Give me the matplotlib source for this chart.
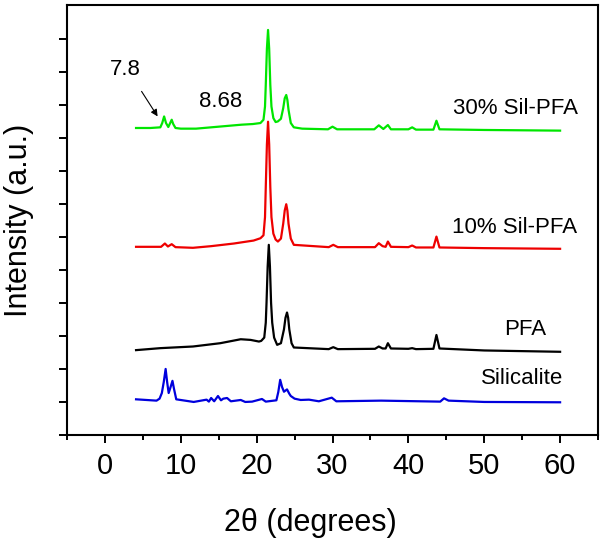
import numpy as np
import matplotlib
matplotlib.use("Agg")
import matplotlib.pyplot as plt
from matplotlib.ticker import MultipleLocator, NullFormatter

plt.rcParams['font.family'] = ['Liberation Sans', 'DejaVu Sans']

# traces (2theta, offset intensity)
sil30_x = [4.1, 6.0, 7.3, 7.55, 7.8, 8.05, 8.35, 8.6, 8.8, 9.0, 9.3, 10, 12, 14, 16, 18, 19.5, 20.5,
           20.9, 21.1, 21.2, 21.35, 21.5, 21.65, 21.8, 21.95, 22.2, 22.5, 22.8, 23.2, 23.5, 23.7,
           23.9, 24.05, 24.2, 24.5, 24.9, 26, 29.4, 30.0, 30.6, 35.5, 36.1, 36.7, 37.3, 37.7,
           40, 40.5, 41.0, 43.3, 43.7, 44.1, 50, 60]
sil30_y = [9.30, 9.30, 9.32, 9.45, 9.65, 9.45, 9.33, 9.45, 9.55, 9.42, 9.30, 9.28, 9.28, 9.32, 9.36,
           9.40, 9.42, 9.45, 9.55, 9.95, 10.6, 11.7, 12.27, 11.7, 10.6, 9.95, 9.60, 9.48, 9.50, 9.58,
           9.90, 10.2, 10.3, 10.15, 9.85, 9.45, 9.32, 9.28, 9.26, 9.34, 9.26, 9.26, 9.38, 9.27, 9.39,
           9.26, 9.26, 9.32, 9.25, 9.25, 9.52, 9.26, 9.24, 9.22]

sil10_x = [4.1, 7.4, 7.9, 8.3, 8.8, 9.3, 11.6, 14, 17, 19.6, 20.5, 20.9, 21.1, 21.2, 21.35, 21.5,
           21.65, 21.8, 21.95, 22.2, 22.5, 22.8, 23.2, 23.5, 23.7, 23.9, 24.05, 24.2, 24.5, 24.9,
           29.5, 30.1, 30.7, 35.6, 36.1, 36.6, 37.0, 37.3, 37.7, 40.0, 40.5, 41.0, 43.3, 43.7,
           44.1, 50, 60]
sil10_y = [5.70, 5.70, 5.80, 5.71, 5.78, 5.69, 5.67, 5.72, 5.80, 5.89, 5.96, 6.05, 6.60, 7.50, 8.80,
           9.49, 8.80, 7.50, 6.60, 6.10, 5.92, 5.86, 5.95, 6.40, 6.80, 6.99, 6.80, 6.40, 5.95, 5.76,
           5.69, 5.76, 5.69, 5.69, 5.81, 5.72, 5.70, 5.86, 5.70, 5.69, 5.74, 5.68, 5.68, 6.01, 5.68,
           5.66, 5.64]

pfa_x = [4.1, 7.3, 11.6, 15.2, 17.9, 19.2, 20.3, 20.6, 21.0, 21.2, 21.3, 21.45, 21.6, 21.75, 21.9,
         22.05, 22.3, 22.7, 23.2, 23.6, 23.8, 24.0, 24.15, 24.3, 24.6, 24.9, 29.5, 30.1, 30.7, 35.6,
         36.1, 36.6, 37.0, 37.3, 37.7, 40.0, 40.5, 41.0, 43.3, 43.7, 44.1, 50, 60]
pfa_y = [2.57, 2.63, 2.68, 2.78, 2.90, 2.88, 2.83, 2.85, 2.95, 3.40, 4.00, 5.10, 5.76, 5.10, 4.00,
         3.40, 2.95, 2.73, 2.78, 3.20, 3.55, 3.71, 3.55, 3.20, 2.78, 2.65, 2.60, 2.66, 2.60, 2.61,
         2.68, 2.62, 2.62, 2.78, 2.62, 2.61, 2.63, 2.60, 2.61, 3.03, 2.62, 2.56, 2.52]

silic_x = [4.1, 6.8, 7.2, 7.5, 7.75, 8.0, 8.2, 8.4, 8.65, 8.9, 9.1, 9.4, 11.7, 13.4, 13.7, 14.0,
           14.4, 14.9, 15.3, 15.6, 16.1, 16.6, 17.9, 18.5, 19.4, 20.7, 21.2, 22.6, 22.85, 23.1,
           23.35, 23.6, 24.0, 24.3, 24.5, 25.0, 25.8, 26.9, 28.2, 29.9, 30.5, 36.4, 44.2, 44.7,
           45.3, 50, 60]
silic_y = [1.08, 1.04, 1.10, 1.27, 1.60, 2.00, 1.60, 1.27, 1.45, 1.64, 1.40, 1.08, 1.00, 1.07, 1.01,
           1.12, 1.02, 1.18, 1.05, 1.10, 1.12, 1.02, 1.06, 1.00, 1.01, 1.09, 1.01, 1.05, 1.30, 1.67,
           1.45, 1.31, 1.38, 1.25, 1.18, 1.10, 1.06, 1.07, 1.02, 1.13, 1.02, 1.04, 1.01, 1.11, 1.04,
           1.00, 0.99]

names = ['30% Sil-PFA', '10% Sil-PFA', 'PFA', 'Silicalite']
colors = ['#00e600', '#ee0000', 'black', '#0000dd']
label_pos = [(62.3, 9.88), (62.2, 6.28), (58.2, 3.18), (60.4, 1.70)]

xticks = [0, 10, 20, 30, 40, 50, 60]

fig = plt.figure(figsize=(6, 5.41), dpi=100)
ax = fig.add_axes([0.1117, 0.196, 0.885, 0.795])

traces = [(sil30_x, sil30_y), (sil10_x, sil10_y), (pfa_x, pfa_y), (silic_x, silic_y)]
for (tx, ty), c in zip(traces, colors):
    ax.plot(tx, ty, color=c, lw=1.6)

for name, (lx, ly) in zip(names, label_pos):
    ax.text(lx, ly, name, ha='right', va='center', fontsize=16)

ax.text(2.65, 11.06, '7.8', ha='center', va='center', fontsize=16)
ax.text(15.2, 10.1, '8.68', ha='center', va='center', fontsize=16)
ax.annotate('', xy=(7.14, 9.58), xytext=(4.63, 10.48),
            arrowprops=dict(arrowstyle='-|>', color='black', lw=0.8, mutation_scale=10))

ax.set_xlim(-5, 65)
ax.set_ylim(0, 13.03)
ax.set_xticks(xticks)
ax.xaxis.set_minor_locator(MultipleLocator(5))
ax.set_yticks(range(0, 13))
ax.yaxis.set_major_formatter(NullFormatter())
ax.tick_params(axis='x', which='major', length=6, width=1.4, labelsize=21, pad=6)
ax.tick_params(axis='x', which='minor', length=3.5, width=1.4)
ax.tick_params(axis='y', which='major', length=6, width=1.4)
for s in ax.spines.values():
    s.set_linewidth(1.5)

ax.set_xlabel('2θ (degrees)', fontsize=22)
ax.xaxis.set_label_coords(0.458, -0.17)
ax.set_ylabel('Intensity (a.u.)', fontsize=22)
ax.yaxis.set_label_coords(-0.062, 0.5)

fig.savefig('out.png', dpi=100)
